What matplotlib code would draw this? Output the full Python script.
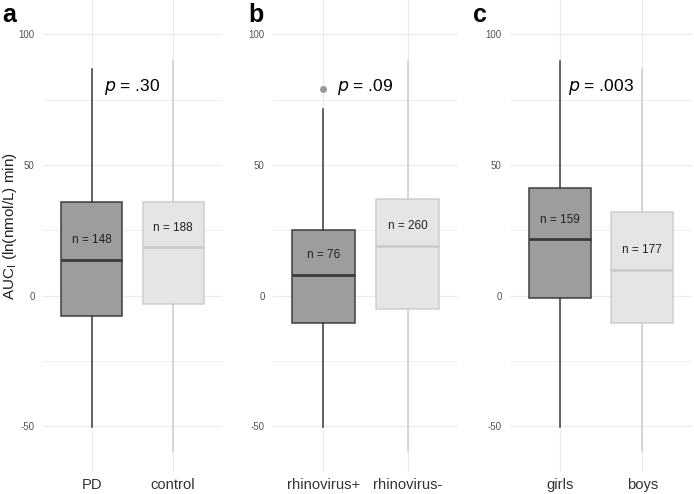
import matplotlib
matplotlib.use("Agg")
import matplotlib.pyplot as plt

plt.rcParams['font.family'] = ['Liberation Sans', 'DejaVu Sans']

# ---- data ----
groups_a = ['PD', 'control']
whislo_a = [-50.3, -59.5]
q1_a = [-8.0, -3.3]
med_a = [13.6, 18.5]
q3_a = [35.8, 35.8]
whishi_a = [86.8, 89.8]
fliers_a = [[], []]
n_a = [148, 188]
p_a = '.30'

groups_b = ['rhinovirus+', 'rhinovirus-']
whislo_b = [-50.5, -59.5]
q1_b = [-10.4, -5.3]
med_b = [8.0, 19.1]
q3_b = [25.2, 37.0]
whishi_b = [71.5, 89.8]
fliers_b = [[79.0], []]
n_b = [76, 260]
p_b = '.09'

groups_c = ['girls', 'boys']
whislo_c = [-50.3, -59.5]
q1_c = [-0.8, -10.7]
med_c = [21.5, 9.9]
q3_c = [41.2, 31.9]
whishi_c = [89.8, 86.8]
fliers_c = [[], []]
n_c = [159, 177]
p_c = '.003'

panel_letters = ['a', 'b', 'c']
yticks = [-50, 0, 50, 100]
minor_yticks = [-25, 25, 75]

panels = [
    (groups_a, whislo_a, q1_a, med_a, q3_a, whishi_a, fliers_a, n_a, p_a),
    (groups_b, whislo_b, q1_b, med_b, q3_b, whishi_b, fliers_b, n_b, p_b),
    (groups_c, whislo_c, q1_c, med_c, q3_c, whishi_c, fliers_c, n_c, p_c),
]

W, H = 694, 494
fig = plt.figure(figsize=(W / 100, H / 100), dpi=100)

# axes extents in pixels (left, right)
ax_px = [(43, 222), (273, 458), (510, 692)]
ax_top, ax_bot = 0, 472
letter_x = [2, 248, 473]

dark_edge = '#3a3a3a'
dark_fill = '#9a9a9a'
light_edge = '#cccccc'
light_fill = '#e5e5e5'
grid_col = '#ebebeb'

for i, (groups, wlo, q1, med, q3, whi, fl, ns, p) in enumerate(panels):
    l, r = ax_px[i]
    ax = fig.add_axes([l / W, 1 - ax_bot / H, (r - l) / W, (ax_bot - ax_top) / H])
    ax.set_xlim(0.4, 2.6)
    ax.set_ylim(-67.6, 113.2)
    for s in ax.spines.values():
        s.set_visible(False)
    # gridlines
    for y in yticks:
        ax.axhline(y, color=grid_col, lw=0.9, zorder=0)
    for y in minor_yticks:
        ax.axhline(y, color=grid_col, lw=0.6, zorder=0)
    for x in [1, 2]:
        ax.axvline(x, color=grid_col, lw=0.9, zorder=0)

    stats = []
    for k in range(2):
        stats.append(dict(whislo=wlo[k], q1=q1[k], med=med[k], q3=q3[k],
                          whishi=whi[k], fliers=fl[k], label=groups[k]))
    for k in range(2):
        ec = dark_edge if k == 0 else light_edge
        fc = dark_fill if k == 0 else light_fill
        ax.bxp([stats[k]], positions=[k + 1], widths=0.75, patch_artist=True,
               showcaps=False, showfliers=True,
               boxprops=dict(facecolor=fc, edgecolor=ec, linewidth=1.1, alpha=0.97),
               whiskerprops=dict(color=ec, linewidth=1.1),
               medianprops=dict(color=ec, linewidth=2.0),
               flierprops=dict(marker='o', markerfacecolor='#999999',
                               markeredgecolor='#999999', markersize=4),
               manage_ticks=False, zorder=2)
        ax.text(k + 1, med[k] + 7.5, f'n = {ns[k]}', ha='center', va='center',
                fontsize=8.5, color='#222222', zorder=4)

    ax.text(1.5, 80, r'$p$ = ' + p, ha='center', va='center', fontsize=12.5,
            color='black', zorder=4)

    ax.set_xticks([1, 2])
    ax.set_xticklabels(groups, fontsize=10.6, color='#333333')
    ax.set_yticks(yticks)
    ax.set_yticklabels([str(t) for t in yticks], fontsize=7, color='#555555')
    ax.tick_params(axis='both', length=0)
    ax.tick_params(axis='x', pad=4.5)
    ax.tick_params(axis='y', pad=6)

    fig.text(letter_x[i] / W, 1 - 15 / H, panel_letters[i], fontsize=18,
             fontweight='bold', ha='left', va='center')

fig.text(10 / W, 1 - 226 / H, r'AUC$_\mathregular{I}$ (ln(nmol/L) min)',
         rotation=90, ha='center', va='center', fontsize=11, color='#222222')

fig.savefig('out.png', dpi=100)
